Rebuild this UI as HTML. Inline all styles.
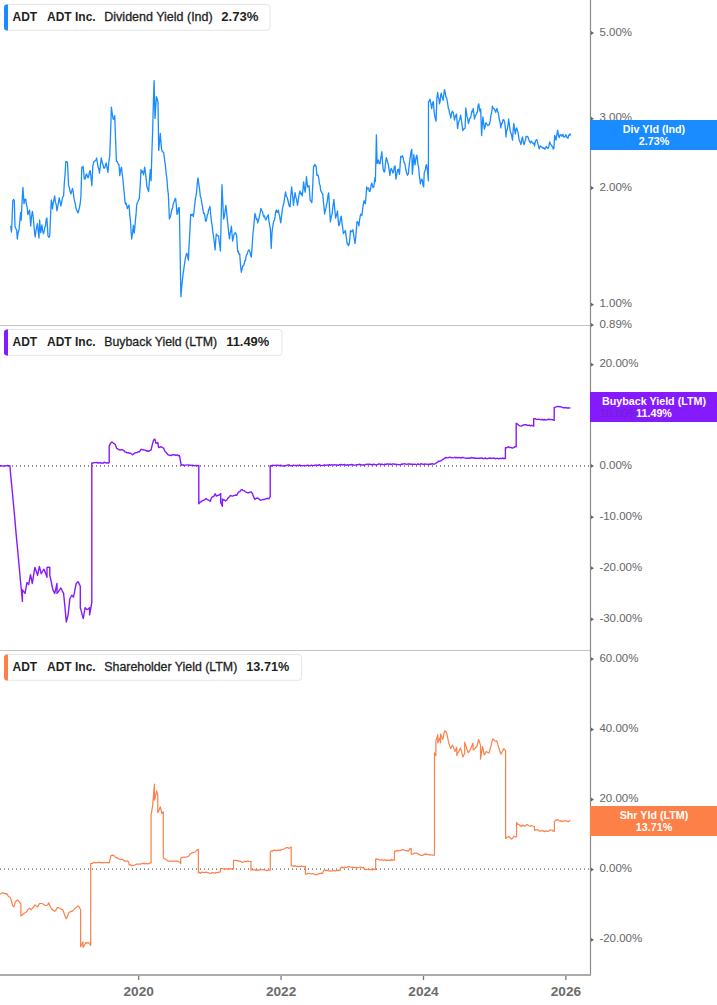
<!DOCTYPE html>
<html><head><meta charset="utf-8"><style>
html,body{margin:0;padding:0;background:#fff;width:717px;height:1005px;overflow:hidden}
svg{display:block;font-family:"Liberation Sans",sans-serif;font-size:12px}
</style></head><body>
<svg width="717" height="1005" viewBox="0 0 717 1005">
<line x1="0" y1="325.5" x2="590" y2="325.5" stroke="#c4c4c4" stroke-width="1"/>
<line x1="0" y1="650.5" x2="590" y2="650.5" stroke="#c4c4c4" stroke-width="1"/>
<line x1="0" y1="466" x2="590" y2="466" stroke="#8c8c8c" stroke-width="1.8" stroke-dasharray="1,3"/>
<line x1="0" y1="869.1" x2="590" y2="869.1" stroke="#8c8c8c" stroke-width="1.8" stroke-dasharray="1,3"/>
<polyline points="10.6,225.9 11.5,232.0 12.2,215.7 12.8,200.8 13.6,199.4 14.3,200.8 15.0,226.0 15.8,228.6 16.7,230.0 17.3,239.0 18.1,232.8 19.0,230.0 19.8,221.4 20.6,212.5 21.2,220.0 22.0,203.2 22.9,187.4 24.0,203.6 24.9,199.5 25.7,199.0 26.4,204.3 27.2,207.6 27.9,214.7 28.8,212.1 29.6,210.0 30.7,226.0 31.5,217.0 32.4,211.4 33.1,216.2 33.8,223.9 34.5,231.9 35.2,237.0 35.9,231.1 36.7,227.0 37.4,223.7 38.2,231.4 39.0,238.0 39.6,219.8 40.7,232.6 41.9,224.8 42.7,231.0 43.5,233.7 44.2,230.9 44.9,227.0 45.5,226.2 46.2,219.3 46.9,218.0 48.0,236.0 48.9,237.4 49.7,236.0 50.5,217.2 51.3,200.0 51.9,203.1 52.5,209.0 53.2,203.1 54.0,199.4 54.7,195.8 55.4,202.1 56.2,204.5 56.9,210.8 57.7,206.9 58.4,202.8 59.2,198.0 60.0,201.5 60.8,206.0 61.5,203.6 62.2,199.2 62.9,196.6 63.6,195.8 64.3,183.3 65.1,173.8 65.8,161.7 66.7,161.7 67.5,162.3 68.6,185.7 69.4,187.7 70.1,191.6 70.9,194.0 71.7,191.1 72.5,188.5 73.2,191.6 73.9,197.5 74.5,201.0 75.2,203.1 75.9,208.0 76.6,210.0 77.4,211.4 78.1,213.0 79.2,208.6 80.1,204.2 80.9,196.8 81.8,167.2 82.4,167.7 83.1,166.3 83.7,171.8 84.3,179.0 85.2,178.8 86.0,174.8 86.6,173.9 87.2,175.7 87.9,177.7 88.5,177.3 89.3,172.6 90.2,170.6 91.1,178.2 91.9,185.8 92.8,166.3 93.7,162.0 94.5,161.3 95.2,160.8 95.9,160.1 96.6,157.9 97.3,162.0 98.0,167.0 98.8,168.6 99.5,173.1 100.3,166.3 101.2,157.9 101.8,160.8 102.5,163.3 103.2,165.3 103.8,168.0 104.4,168.1 105.0,167.3 105.7,164.1 106.3,163.0 107.2,168.3 108.0,172.3 108.8,162.5 109.7,156.2 110.6,132.5 111.4,107.1 112.2,113.6 113.1,119.0 113.9,119.3 114.7,115.6 115.6,139.7 116.4,161.3 117.1,161.3 117.7,162.5 118.3,164.4 119.0,164.6 119.8,175.6 120.7,169.5 121.5,167.2 122.2,173.8 122.9,179.4 123.5,185.9 124.2,192.5 124.9,201.0 125.5,204.0 126.2,203.3 126.8,205.7 127.4,208.6 128.2,206.5 129.1,205.2 129.8,215.1 130.4,220.4 131.0,230.3 131.7,239.0 132.6,232.4 133.4,225.5 134.2,233.1 134.8,227.7 135.4,220.4 136.1,213.6 136.7,205.2 137.3,202.6 138.0,201.5 138.7,199.6 139.3,198.5 140.2,185.6 141.0,169.7 141.6,172.8 142.2,170.9 142.9,172.2 143.5,174.8 144.7,167.2 145.4,172.6 146.2,179.1 146.9,186.6 147.8,189.1 148.6,191.7 149.4,181.1 150.3,169.7 151.1,180.7 151.9,152.3 152.8,125.7 153.4,101.2 154.1,80.7 155.0,118.4 155.7,107.2 156.4,96.7 157.2,99.0 158.0,102.4 158.7,150.4 159.5,142.1 160.3,133.3 161.4,148.1 162.2,151.4 162.9,151.9 163.7,152.7 164.3,157.3 164.9,162.3 165.5,166.4 166.2,174.0 166.9,178.4 167.6,188.6 168.3,193.9 169.4,219.0 170.2,217.1 170.9,214.4 171.7,209.9 172.5,208.4 173.2,204.1 174.0,201.9 174.8,199.7 175.6,198.4 176.3,204.8 177.0,214.4 177.8,212.7 178.5,208.1 179.3,207.6 180.1,250.4 180.9,296.7 181.6,287.9 182.4,280.1 183.1,273.9 183.8,269.1 184.5,263.9 185.2,259.5 185.9,256.0 186.6,253.3 187.2,254.0 187.8,257.3 188.4,260.1 189.2,243.0 189.9,231.1 190.7,214.4 191.4,215.4 192.1,214.1 192.7,215.1 193.4,216.7 194.1,210.5 194.7,205.1 195.4,198.6 196.0,195.9 196.7,191.0 197.3,183.3 198.0,177.9 198.8,183.9 199.5,188.4 200.3,196.1 201.0,198.0 201.7,202.4 202.3,205.5 203.0,209.9 203.6,213.5 204.2,213.1 204.8,214.8 205.4,220.8 206.0,221.3 206.7,218.9 207.3,214.9 207.9,214.0 208.6,209.5 209.2,209.0 209.9,206.4 210.7,214.8 211.4,220.9 212.2,225.9 212.9,232.7 213.6,236.9 214.4,243.4 215.1,249.9 215.7,240.6 216.3,233.9 217.1,235.7 217.8,235.5 218.6,236.1 219.2,242.2 219.8,245.4 220.4,251.0 221.2,216.7 222.0,184.7 222.8,203.1 223.6,219.0 224.4,216.4 225.1,211.3 225.9,205.3 226.9,214.9 227.6,222.1 228.2,228.1 228.8,233.8 229.5,238.8 230.1,233.5 230.8,230.4 231.4,226.1 232.6,241.2 233.3,238.2 233.9,234.5 234.6,234.0 235.2,232.4 235.9,233.7 236.5,234.8 237.7,251.6 238.4,251.4 239.0,254.0 239.7,254.0 240.5,265.0 241.3,272.3 242.1,268.9 242.8,265.9 243.5,265.8 244.2,264.1 244.9,260.3 245.5,260.5 246.1,256.6 246.7,254.5 247.3,254.0 248.1,250.9 248.9,250.0 249.5,250.6 250.1,252.4 250.7,255.8 251.3,257.1 252.1,247.2 252.9,234.0 253.6,228.5 254.3,220.1 255.0,213.3 255.7,216.3 256.4,219.3 257.0,218.8 257.7,222.9 258.3,220.7 259.0,218.8 259.6,215.4 260.3,212.4 260.9,208.5 261.7,210.5 262.4,211.5 263.2,214.9 263.8,216.9 264.5,215.8 265.1,218.5 265.8,220.0 266.4,218.9 267.0,217.2 267.7,215.8 268.3,214.9 269.0,221.5 269.7,225.3 270.4,229.2 271.2,248.4 272.0,232.4 272.6,227.6 273.2,224.0 273.9,220.7 274.5,220.2 275.1,216.4 275.7,211.7 276.4,209.9 277.0,212.2 277.7,212.4 278.4,210.1 279.0,213.9 279.6,215.9 280.2,219.9 280.8,222.9 281.6,215.6 282.4,209.2 283.2,205.3 283.8,203.8 284.4,199.1 285.0,195.3 285.6,191.8 286.4,196.5 287.2,197.4 288.0,200.6 288.7,204.2 289.3,206.1 290.0,206.9 290.8,195.8 291.6,187.0 292.2,192.1 292.9,198.4 293.5,205.3 294.3,197.9 295.1,192.6 295.9,197.2 296.7,200.1 297.5,205.3 298.3,200.2 299.1,194.3 299.9,191.0 300.5,193.9 301.1,192.9 301.7,194.6 302.3,196.0 303.0,189.2 303.6,181.8 304.4,188.6 305.2,192.1 305.9,184.0 306.5,176.6 307.1,183.5 307.8,187.0 308.5,186.4 309.1,185.7 310.1,199.9 311.0,201.3 311.9,202.5 312.9,181.8 313.6,166.2 314.2,166.3 314.9,164.3 315.6,166.0 316.2,166.2 316.8,175.3 317.5,175.1 318.1,175.4 318.8,178.5 319.4,183.8 320.1,185.4 320.7,190.8 321.4,191.6 322.0,193.4 322.7,193.4 323.3,200.5 324.0,206.5 324.6,214.1 325.2,211.2 325.9,208.3 326.5,205.1 327.2,202.1 328.0,195.3 328.7,192.8 329.5,207.6 330.4,221.9 331.2,217.0 332.1,214.1 333.0,205.8 333.9,199.3 334.8,209.7 335.6,218.0 336.2,215.7 336.9,213.5 337.5,210.9 338.1,219.4 338.8,225.8 339.6,224.2 340.4,219.1 341.2,216.1 341.9,222.4 342.7,227.8 343.4,233.6 344.0,232.5 344.7,232.2 345.3,230.3 345.9,234.6 346.6,239.5 347.2,243.9 347.9,243.8 348.5,245.7 349.2,243.9 349.9,237.9 350.5,230.3 351.3,231.6 352.0,231.7 352.8,229.7 353.5,233.3 354.3,239.0 355.0,243.3 355.7,237.9 356.3,230.4 357.0,221.9 357.6,221.7 358.3,223.0 358.9,225.8 359.5,220.7 360.2,216.1 361.0,214.0 361.9,215.4 362.6,209.4 363.4,203.8 364.1,200.6 364.8,202.9 365.4,203.8 366.0,196.5 366.7,187.0 367.4,189.2 368.0,188.3 368.6,188.0 369.3,191.3 369.9,191.5 370.5,189.3 371.2,184.5 371.8,183.1 372.5,185.9 373.1,187.6 373.8,187.0 374.5,181.0 375.1,177.2 375.4,181.5 376.4,134.9 377.1,163.6 378.3,160.0 379.1,163.6 380.0,163.6 380.6,159.2 381.3,155.5 381.9,151.6 382.5,162.0 383.1,168.4 383.9,171.5 384.6,171.9 385.5,163.4 386.3,157.6 386.9,159.3 387.5,161.7 388.1,163.6 389.0,168.9 389.9,175.5 390.5,170.7 391.1,168.4 392.0,170.0 392.9,173.1 393.6,171.6 394.4,166.4 395.1,166.0 395.9,179.1 396.5,176.1 397.1,172.5 397.7,169.6 398.3,169.2 398.9,172.1 399.5,174.3 400.7,156.4 401.3,157.2 401.9,157.0 402.5,155.6 403.1,157.6 404.0,162.5 404.9,163.6 405.8,169.5 406.6,173.1 407.5,175.3 408.4,173.7 409.0,166.8 409.6,162.0 410.2,157.6 411.0,151.6 411.8,149.3 412.3,174.3 413.1,165.6 413.8,154.6 415.0,164.8 415.6,160.7 416.2,156.9 416.8,155.2 417.4,158.9 418.0,164.8 418.6,167.2 419.5,176.8 420.4,183.9 421.1,180.5 421.8,179.1 422.4,180.3 423.1,186.0 423.7,186.9 424.2,173.1 424.8,171.3 425.4,169.8 426.0,165.2 426.6,164.8 427.5,171.1 428.4,180.9 428.5,101.5 429.2,101.1 430.0,99.1 430.9,103.6 431.7,108.7 432.5,103.4 433.3,101.5 434.0,110.4 434.7,115.8 435.4,119.0 436.1,121.2 436.9,97.9 437.7,92.5 438.3,97.5 438.9,98.4 439.5,103.9 440.1,101.7 440.7,95.0 441.3,93.1 441.9,97.0 442.5,97.7 443.1,100.3 443.8,94.3 444.5,89.6 445.2,92.6 445.9,96.8 446.6,97.9 447.5,102.4 448.4,108.7 449.0,109.6 449.6,113.6 450.2,114.8 450.8,118.2 451.6,113.1 452.5,111.2 453.2,112.8 453.8,115.3 454.5,120.1 455.2,116.9 455.8,115.3 456.5,114.0 457.6,128.5 458.2,124.1 458.9,121.2 459.8,119.2 460.6,115.1 461.7,122.4 462.8,130.7 463.6,128.9 464.3,128.8 465.1,127.9 465.8,107.9 467.0,116.2 467.7,118.6 468.4,123.5 469.1,121.0 469.9,117.8 470.6,117.9 471.2,114.5 471.9,111.2 472.6,111.7 473.2,108.4 473.9,113.9 474.5,119.0 475.3,115.7 476.0,114.8 476.8,112.9 477.5,111.6 478.1,105.3 478.8,103.9 479.5,109.1 480.1,111.8 480.7,109.0 481.6,135.7 482.2,126.0 482.9,116.8 483.6,122.9 484.4,129.1 485.0,127.3 485.7,122.9 486.4,123.4 487.2,124.8 487.9,125.7 488.7,125.0 489.4,124.6 490.2,121.2 490.9,115.6 491.7,112.5 492.4,106.2 493.1,108.0 493.7,108.6 494.4,109.0 495.0,110.3 495.7,112.3 496.9,108.4 497.6,111.2 498.4,113.4 499.1,118.5 500.0,121.7 500.8,127.9 501.5,123.4 502.3,123.3 503.0,119.6 503.9,120.0 504.7,122.4 505.4,128.3 506.0,136.9 506.6,130.8 507.3,129.3 508.0,125.0 508.6,119.0 509.5,125.8 510.3,131.3 511.0,133.4 511.8,136.2 512.5,140.2 513.1,131.0 513.8,123.5 514.5,128.6 515.3,134.1 516.0,129.6 516.7,127.9 517.4,130.5 518.1,132.6 518.8,138.1 519.5,141.0 520.2,142.1 520.9,144.7 521.7,139.8 522.5,136.9 523.4,142.7 524.2,144.7 524.8,141.8 525.5,139.9 526.1,136.4 526.7,136.3 527.4,136.3 528.0,137.2 528.6,138.9 529.2,140.9 529.9,142.0 530.5,143.0 531.1,141.2 531.7,141.8 532.5,142.9 533.4,143.9 534.0,143.0 534.6,146.0 535.2,142.1 535.9,140.1 536.8,139.7 537.6,142.6 538.4,145.3 539.2,148.9 539.9,146.5 540.6,145.9 541.3,147.2 542.1,147.1 543.0,148.5 543.9,147.8 544.7,149.3 545.5,148.2 546.4,146.4 547.2,147.6 548.0,148.5 548.9,146.2 549.7,141.8 550.5,144.1 551.4,145.1 552.0,146.6 552.6,146.4 553.2,149.0 553.9,148.5 554.7,135.5 555.4,137.4 556.0,140.1 556.9,134.4 557.7,130.1 558.5,135.8 559.3,137.6 560.1,134.7 561.0,134.7 561.6,136.0 562.2,136.1 562.9,134.1 563.5,136.3 564.1,137.2 564.8,137.1 565.4,135.6 566.0,134.7 566.7,136.7 567.4,138.1 568.1,138.0 568.7,135.2 569.4,135.3 570.0,133.8 570.6,135.5" fill="none" stroke="#1a8cff" stroke-width="1.3" stroke-linejoin="round"/>
<polyline points="0.0,465.8 1.1,465.8 2.2,465.9 3.3,466.2 4.4,465.8 5.5,465.8 6.6,465.9 7.7,465.5 8.8,465.8 9.9,465.8 10.9,477.2 12.0,488.7 13.0,499.3 14.1,510.8 15.1,521.9 16.1,533.9 17.2,545.1 18.2,555.7 19.3,568.0 20.3,579.3 21.4,590.3 22.4,601.4 22.4,589.8 23.8,591.7 25.1,593.4 26.9,582.6 28.7,584.4 30.5,574.6 32.3,583.5 33.6,575.1 34.9,567.4 36.2,570.9 37.6,575.4 39.4,566.5 41.2,573.7 42.5,571.5 43.9,569.2 44.9,571.4 46.0,574.2 47.0,577.2 47.0,567.4 48.4,567.1 49.8,567.4 49.8,575.4 50.8,579.7 51.9,585.0 52.9,589.8 54.7,593.4 55.9,588.4 57.0,583.5 57.0,593.4 58.3,591.9 59.6,589.8 60.9,588.0 62.2,590.8 63.6,593.4 65.0,607.7 66.3,622.0 68.1,614.9 69.9,598.7 71.7,595.2 73.5,597.0 74.8,590.4 76.2,583.5 78.0,581.7 79.2,583.9 80.3,586.2 80.3,607.7 81.3,611.1 82.3,615.4 83.3,618.5 85.1,607.7 86.9,609.5 88.2,609.1 89.6,607.7 89.6,614.9 90.7,608.9 91.8,602.3 91.8,462.9 92.8,463.1 93.8,462.7 94.9,462.6 95.9,462.6 96.9,462.4 97.9,463.1 99.0,462.7 100.0,463.2 101.0,462.7 102.0,463.2 103.1,463.1 104.1,462.3 105.1,462.5 106.1,463.1 107.2,462.7 108.2,463.2 109.2,462.7 109.2,445.9 110.3,443.9 111.4,442.1 112.4,442.3 113.4,443.4 115.1,444.2 116.8,448.4 118.0,449.2 119.3,449.8 120.4,450.1 121.5,449.6 122.6,449.8 123.8,450.5 125.1,452.1 126.2,452.1 127.4,452.9 128.5,452.6 129.6,453.4 130.6,453.3 131.6,454.0 132.7,454.8 133.8,453.7 134.9,452.9 136.0,452.6 137.1,452.6 138.3,451.7 139.4,451.8 141.0,449.3 142.1,449.6 143.3,449.8 144.4,450.1 145.4,450.1 146.5,451.0 147.6,450.7 148.6,451.4 149.8,450.7 151.1,449.8 152.3,444.6 153.6,440.1 154.9,439.2 156.1,443.4 157.8,442.6 158.6,447.6 159.8,447.1 161.1,446.8 162.3,447.3 163.6,448.4 165.3,451.8 166.4,452.5 167.4,454.1 168.4,454.9 169.5,455.5 170.5,455.2 171.5,455.6 172.5,454.8 173.5,454.8 174.5,454.8 175.5,455.3 176.5,455.2 177.5,454.8 178.5,455.8 179.5,455.5 181.2,465.2 182.2,464.9 183.3,465.0 184.3,465.5 185.3,465.1 186.4,465.1 187.4,464.9 188.4,464.9 189.5,465.4 190.5,465.1 191.6,465.5 192.6,465.3 193.6,465.4 194.7,465.9 195.7,465.4 196.7,465.5 197.8,465.8 198.8,465.5 198.8,503.8 200.0,502.4 201.2,501.7 202.2,500.7 203.2,500.3 204.6,499.8 206.0,498.5 207.4,499.7 208.8,500.3 210.2,501.3 211.6,497.5 212.6,496.8 213.7,496.6 215.1,493.8 216.5,496.1 217.6,495.4 218.6,495.4 219.6,494.6 220.7,493.4 220.7,502.4 222.4,506.3 222.4,498.9 223.5,500.0 224.5,500.0 225.6,501.0 227.0,499.7 228.4,497.5 229.4,496.8 230.4,495.4 231.4,495.9 232.5,496.1 233.6,495.7 234.6,495.4 235.6,495.0 236.7,495.4 237.8,493.2 238.8,492.0 239.8,491.7 240.9,490.1 241.9,489.6 243.0,490.4 244.0,490.6 245.1,491.5 246.5,492.4 247.9,492.7 249.1,492.6 250.2,492.0 251.4,492.0 252.6,494.1 253.7,497.2 254.9,499.4 256.2,498.3 257.6,498.0 259.0,498.9 260.4,500.3 261.8,499.9 263.2,499.4 264.4,499.5 265.5,498.9 266.7,498.5 267.8,498.5 268.8,498.9 270.2,496.6 270.2,465.7 271.2,466.1 272.2,465.4 273.2,465.2 274.2,465.4 275.2,465.6 276.2,465.2 277.2,465.3 278.2,465.5 279.3,465.7 280.3,465.2 281.3,465.4 282.3,466.0 283.3,466.0 284.3,465.7 285.3,465.7 286.3,465.6 287.3,465.1 288.3,465.0 289.3,465.0 290.3,465.9 291.3,465.7 292.3,465.9 293.3,465.0 294.3,465.6 295.3,465.4 296.4,465.6 297.4,465.2 298.4,465.9 299.4,464.9 300.4,465.4 301.4,465.6 302.4,465.7 303.4,465.6 304.4,465.5 305.4,465.6 306.4,465.7 307.4,465.1 308.4,465.4 309.4,465.7 310.4,465.6 311.4,465.1 312.4,465.5 313.4,465.6 314.5,465.3 315.5,465.3 316.5,465.1 317.5,465.2 318.5,465.3 319.5,464.7 320.5,465.3 321.5,465.6 322.5,465.5 323.5,465.3 324.5,465.0 325.5,465.3 326.5,465.1 327.5,465.0 328.5,465.4 329.5,464.6 330.5,465.3 331.6,464.5 332.6,465.1 333.6,465.0 334.6,464.7 335.6,465.1 336.6,464.9 337.6,465.0 338.6,465.3 339.6,464.7 340.6,464.4 341.6,464.7 342.6,465.0 343.6,464.6 344.6,464.5 345.6,465.2 346.6,465.0 347.6,464.8 348.6,465.2 349.7,464.6 350.7,464.9 351.7,464.5 352.7,464.7 353.7,465.0 354.7,465.1 355.7,465.1 356.7,464.6 357.7,464.8 358.7,464.5 359.7,464.3 360.7,464.7 361.7,465.0 362.7,465.0 363.7,464.8 364.7,465.1 365.7,464.4 366.8,464.3 367.8,464.5 368.8,464.3 369.8,464.3 370.8,464.5 371.8,464.7 372.8,464.5 373.8,464.3 374.8,464.5 375.8,464.8 376.8,465.0 377.8,464.4 378.8,464.0 379.8,464.0 380.8,464.8 381.8,464.0 382.8,464.6 383.8,464.5 384.9,464.2 385.9,464.7 386.9,463.9 387.9,464.0 388.9,464.3 389.9,463.9 390.9,464.7 391.9,464.1 392.9,464.0 393.9,463.9 394.9,464.5 395.9,464.3 396.9,464.4 397.9,464.5 398.9,464.6 399.9,464.7 400.9,464.5 401.9,464.0 402.9,464.2 403.9,463.9 405.0,463.8 406.0,464.2 407.0,464.4 408.0,463.9 409.0,464.0 410.0,464.0 411.0,464.4 412.0,464.2 413.0,464.3 414.0,464.4 415.0,464.1 416.0,464.4 417.0,464.6 418.0,463.7 419.0,464.6 420.0,464.3 421.0,463.7 422.0,464.1 423.0,464.2 424.0,464.5 425.1,464.0 426.1,464.1 427.1,464.4 428.1,464.3 429.1,464.5 430.1,464.0 431.1,464.2 432.1,463.7 433.1,464.2 434.1,464.0 435.2,463.7 436.3,463.0 437.3,462.4 438.4,461.3 439.5,461.4 440.6,460.9 441.7,460.3 442.8,459.3 443.8,459.0 444.9,457.9 446.0,457.5 447.0,457.9 448.0,457.9 449.0,457.4 450.0,457.2 451.0,457.5 452.0,457.7 453.0,457.9 454.0,457.6 455.0,457.2 456.0,458.0 457.0,457.3 458.0,458.0 459.0,457.4 460.0,457.6 461.0,458.1 462.0,457.4 463.1,457.5 464.1,457.8 465.1,458.1 466.1,458.2 467.1,458.1 468.1,458.3 469.1,457.9 470.1,458.4 471.1,457.5 472.1,457.7 473.1,458.0 474.1,457.8 475.1,458.3 476.1,458.2 477.1,458.1 478.1,458.4 479.1,458.1 480.1,458.2 481.1,457.9 482.1,458.0 483.1,458.5 484.2,458.6 485.2,457.9 486.2,458.6 487.2,458.7 488.2,458.3 489.2,458.3 490.2,458.0 491.2,458.3 492.2,458.3 493.3,458.4 494.3,457.9 495.3,458.8 496.3,458.4 497.3,458.3 498.3,458.7 499.3,458.5 500.3,458.4 501.4,458.6 502.4,458.0 503.4,458.5 504.4,458.4 505.4,458.5 505.4,447.7 506.9,447.7 508.3,446.7 509.6,447.6 511.0,447.4 512.3,448.1 513.6,447.6 514.9,446.8 516.2,446.7 516.2,423.3 517.5,424.1 518.8,425.3 520.1,425.9 521.3,426.1 522.4,425.4 523.6,425.0 524.7,424.6 525.9,424.7 527.0,425.0 528.1,425.6 529.2,425.0 530.4,425.8 531.5,425.3 532.6,425.7 533.7,426.2 533.7,418.8 535.0,418.7 536.3,419.4 537.6,419.4 538.7,419.3 539.8,419.4 540.9,419.8 542.1,419.3 543.2,420.1 544.3,419.5 545.4,420.0 546.6,419.9 547.8,419.5 548.9,419.3 550.1,419.6 551.3,419.4 552.8,419.8 554.2,420.4 554.2,407.7 555.5,407.1 556.8,406.7 558.1,406.3 559.3,406.7 560.5,406.7 561.8,407.1 563.0,407.7 564.1,407.8 565.1,407.8 566.2,407.7 567.2,408.1 568.3,407.8 569.3,408.1 570.4,407.7" fill="none" stroke="#851aff" stroke-width="1.4" stroke-linejoin="round"/>
<polyline points="0.0,894.4 1.4,893.3 2.8,892.7 3.8,893.2 4.9,893.4 6.0,893.9 7.0,893.7 8.4,896.5 9.4,896.8 10.5,897.9 11.6,901.4 12.6,905.6 13.9,906.9 15.3,902.1 16.4,900.6 17.4,900.0 18.4,900.7 19.5,902.1 20.9,904.2 20.9,916.0 22.1,915.3 23.2,913.7 24.4,913.2 25.4,912.5 26.5,911.8 27.9,909.7 29.3,908.3 30.4,908.8 31.4,909.7 32.6,908.0 33.7,906.9 34.9,904.9 36.3,906.0 37.7,906.9 38.7,904.6 39.7,903.5 40.9,903.5 42.0,903.5 43.2,904.2 44.4,905.1 45.5,905.5 46.7,905.6 47.8,904.6 48.8,902.8 50.2,906.3 51.6,909.0 52.8,910.0 53.9,910.9 55.1,911.1 56.2,909.7 57.2,907.6 58.6,907.7 60.0,908.3 61.4,909.4 62.8,909.7 63.9,912.7 65.1,916.1 66.2,918.8 67.6,915.7 69.0,912.5 70.2,911.9 71.3,911.4 72.5,911.1 73.7,909.8 74.8,908.5 76.0,907.6 77.4,906.4 78.8,906.2 80.6,909.7 80.6,946.7 81.8,944.6 83.0,941.8 83.0,947.4 84.4,945.3 85.8,942.5 87.2,943.1 88.6,942.5 89.7,944.1 90.7,945.3 90.7,937.6 90.7,863.4 91.7,863.3 92.8,863.3 93.8,862.4 94.8,862.6 95.8,862.8 96.9,862.6 97.9,862.3 98.9,862.3 99.9,862.7 101.0,862.4 102.0,862.7 103.0,862.9 104.1,862.7 105.1,862.4 106.1,862.8 107.1,862.5 108.2,862.6 109.2,862.9 110.9,855.7 112.2,855.1 113.4,855.3 114.7,856.4 115.9,857.8 117.2,857.7 118.4,858.7 119.5,859.1 120.5,859.6 121.5,859.2 122.6,859.5 123.7,860.3 124.9,861.2 126.0,861.2 127.2,860.9 128.5,861.7 129.3,865.0 130.4,864.7 131.6,865.6 132.7,865.4 133.9,865.5 135.0,865.0 136.2,864.2 137.3,864.2 138.5,864.0 139.6,864.2 140.8,864.1 141.9,863.4 143.0,863.8 144.1,863.1 145.2,864.0 146.4,863.4 147.5,863.9 148.6,863.7 149.8,862.9 151.1,862.9 151.1,815.2 152.7,805.1 154.4,784.2 154.4,800.1 155.5,796.1 156.6,790.9 157.8,795.1 157.8,812.7 159.1,809.9 160.3,806.8 161.9,813.5 163.3,811.8 163.3,857.8 164.4,858.7 165.4,858.8 166.5,860.0 167.5,860.6 168.6,861.2 169.7,861.3 170.9,861.0 172.0,861.2 173.1,861.5 174.2,861.0 175.3,861.2 176.5,861.2 177.7,861.2 178.8,862.0 180.0,862.0 180.7,863.7 180.7,858.3 181.8,857.6 182.9,857.5 184.0,857.0 185.1,857.4 186.2,857.0 187.4,856.7 188.7,856.2 190.4,853.7 191.4,853.4 192.5,852.4 193.6,852.6 194.6,852.3 195.9,851.2 197.1,849.9 198.4,849.5 198.4,872.9 199.4,872.2 200.4,873.4 201.4,872.2 202.5,872.4 203.5,872.3 204.5,872.6 205.5,872.4 206.6,872.1 207.8,872.8 208.9,872.8 210.0,873.2 211.0,873.5 212.0,872.4 213.0,872.7 214.0,872.8 215.1,873.3 216.1,872.6 217.1,872.5 218.1,872.6 219.1,872.1 220.1,872.2 220.9,868.8 222.0,868.3 223.0,868.8 224.1,869.3 225.1,869.2 226.2,868.6 227.2,869.1 228.2,869.3 229.3,868.6 230.3,869.1 231.4,868.8 232.4,868.7 233.5,869.0 233.5,860.4 234.5,860.3 235.6,860.3 236.6,860.6 237.6,860.9 238.7,860.6 239.7,861.4 240.8,861.3 241.8,862.1 242.8,862.3 243.8,861.9 244.8,861.1 245.8,861.9 246.8,861.4 247.9,861.0 248.9,861.4 249.9,861.5 251.0,861.4 251.0,870.1 252.0,869.9 253.0,869.8 254.0,870.0 255.1,869.7 256.1,870.5 257.1,869.6 258.1,870.5 259.1,869.8 260.1,869.9 261.2,870.0 262.2,869.5 263.2,869.7 264.2,869.9 265.2,870.0 266.2,870.6 267.3,870.7 268.3,869.6 269.3,870.1 270.3,870.1 270.3,851.7 271.4,850.8 272.5,851.2 273.6,850.4 274.7,850.1 275.9,850.7 277.0,850.1 278.1,850.3 279.2,850.0 280.3,850.6 281.4,849.5 282.6,849.4 283.7,849.2 284.9,848.8 286.2,847.6 287.4,847.6 288.7,848.4 289.9,847.7 291.2,847.1 291.2,866.0 292.2,865.9 293.2,865.9 294.2,866.4 295.3,865.7 296.3,866.4 297.3,866.3 298.3,866.7 299.3,866.2 300.3,866.7 301.3,866.1 302.4,866.3 303.4,866.4 304.4,866.7 305.4,866.3 305.4,874.0 306.5,874.4 307.6,873.4 308.8,873.3 309.9,873.7 311.0,874.0 312.1,873.5 313.2,873.9 314.4,874.1 315.5,874.7 316.6,875.0 317.8,874.0 318.9,873.5 320.0,873.8 321.2,873.1 322.5,873.5 323.7,870.5 324.8,870.0 325.8,870.8 326.9,870.1 327.9,870.8 328.9,871.0 330.0,870.6 331.0,871.2 332.0,871.0 333.0,870.5 334.0,870.7 335.1,870.9 336.1,870.8 337.1,870.3 338.1,870.8 339.1,870.0 340.1,870.5 340.9,867.3 341.9,867.1 343.0,867.9 344.0,867.3 345.0,867.0 346.0,867.6 347.1,867.2 348.1,866.7 349.1,866.7 350.1,867.0 351.2,867.1 352.2,867.8 353.2,867.0 354.3,867.7 355.3,867.7 356.3,867.2 357.3,867.9 358.4,867.6 359.4,867.3 360.4,867.0 361.4,867.3 362.5,867.8 363.5,867.3 364.4,869.6 365.4,869.6 366.5,869.2 367.5,869.5 368.5,869.6 369.5,869.2 370.6,869.7 371.6,869.0 372.6,870.0 373.6,869.2 374.7,869.1 375.7,869.6 375.7,858.9 376.9,859.2 378.0,859.1 379.1,860.0 380.3,859.8 381.4,859.8 382.5,859.9 383.6,860.4 384.7,859.7 385.8,860.3 386.9,860.1 388.0,860.3 389.1,860.0 390.2,860.7 391.2,859.5 392.3,860.5 393.4,859.7 394.5,860.1 394.5,851.2 395.6,851.5 396.6,850.6 397.6,850.4 398.7,850.9 399.8,850.5 400.9,850.5 402.0,849.6 403.2,849.6 404.4,850.2 405.5,850.7 406.7,850.6 407.9,851.2 409.0,850.3 410.1,848.7 411.2,848.4 411.2,854.2 412.2,853.9 413.3,854.0 414.3,853.2 415.4,853.1 416.6,853.2 417.8,853.5 418.9,854.7 420.1,854.9 421.3,855.4 422.3,855.6 423.3,855.0 424.3,853.9 425.3,854.5 426.3,853.7 427.4,854.5 428.4,854.6 429.4,854.8 430.5,854.7 431.5,855.0 432.5,855.2 433.5,855.2 434.5,855.1 434.5,752.8 435.9,755.6 435.9,740.9 437.8,734.6 437.8,743.0 439.6,738.1 440.6,743.0 440.6,734.0 441.8,736.9 442.9,739.5 444.5,730.9 445.6,731.5 446.6,732.6 447.6,737.4 448.7,743.0 449.8,746.1 450.8,748.6 452.6,745.1 453.8,748.4 455.0,751.4 456.8,747.2 456.8,755.6 458.1,752.5 459.3,750.6 460.6,747.9 461.8,752.6 462.9,757.0 464.7,753.5 464.7,742.3 465.9,745.8 467.0,749.6 468.2,752.8 469.6,750.8 471.0,747.9 472.1,745.3 473.1,743.0 473.1,750.0 474.4,749.2 475.6,747.7 476.9,746.5 478.7,739.5 480.5,745.1 480.5,759.1 481.5,752.9 482.5,746.5 484.3,754.9 485.4,753.0 486.4,751.4 487.8,752.6 489.2,752.8 490.3,748.1 491.5,744.0 492.6,738.8 493.6,739.7 494.7,740.9 495.8,741.1 496.8,740.9 497.9,744.9 498.9,747.9 499.9,751.3 501.0,754.2 502.4,751.3 503.8,748.6 505.6,750.7 505.6,838.5 506.6,837.3 507.7,837.1 508.7,836.5 510.1,837.7 511.5,839.2 512.7,838.1 513.9,836.2 515.2,836.8 516.6,836.7 516.6,822.6 517.7,824.1 518.8,824.5 520.0,825.4 521.2,826.5 522.7,825.0 524.6,826.3 525.9,825.3 527.1,824.5 528.3,825.3 529.5,826.0 530.5,826.3 531.5,825.5 532.5,826.0 534.4,826.3 534.6,830.4 536.0,829.8 537.3,829.9 538.3,830.1 539.3,831.2 540.6,830.9 541.9,830.8 543.2,830.9 544.5,831.6 545.8,830.9 547.1,831.4 548.5,831.2 550.0,829.9 551.1,830.0 552.2,830.2 553.3,831.4 554.4,831.2 554.4,821.6 555.6,820.4 556.7,819.8 557.9,819.6 559.8,821.1 561.2,820.9 562.7,821.6 563.9,820.8 565.0,820.9 566.2,820.8 568.1,821.8 569.3,820.9 570.5,820.6" fill="none" stroke="#fc8048" stroke-width="1.2" stroke-linejoin="round"/>
<line x1="590.5" y1="0" x2="590.5" y2="975" stroke="#8a8a8a" stroke-width="1.2"/>
<line x1="0" y1="975" x2="591" y2="975" stroke="#aaa" stroke-width="2"/>
<line x1="138.7" y1="976" x2="138.7" y2="980" stroke="#777" stroke-width="1.3"/>
<text transform="translate(138.7,995.8) scale(1.14,1)" font-size="12" font-weight="bold" fill="#6b6b6b" text-anchor="middle">2020</text>
<line x1="281.1" y1="976" x2="281.1" y2="980" stroke="#777" stroke-width="1.3"/>
<text transform="translate(281.1,995.8) scale(1.14,1)" font-size="12" font-weight="bold" fill="#6b6b6b" text-anchor="middle">2022</text>
<line x1="423.5" y1="976" x2="423.5" y2="980" stroke="#777" stroke-width="1.3"/>
<text transform="translate(423.5,995.8) scale(1.14,1)" font-size="12" font-weight="bold" fill="#6b6b6b" text-anchor="middle">2024</text>
<line x1="565.9" y1="976" x2="565.9" y2="980" stroke="#777" stroke-width="1.3"/>
<text transform="translate(565.9,995.8) scale(1.14,1)" font-size="12" font-weight="bold" fill="#6b6b6b" text-anchor="middle">2026</text>
<path d="M591,31.1 L594,33 L591,34.9 z" fill="#666"/><text transform="translate(599.4,35.6) scale(1.045,1)" font-size="11" fill="#666">5.00%</text>
<path d="M591,116.8 L594,118.7 L591,120.60000000000001 z" fill="#666"/><text transform="translate(599.4,121.3) scale(1.045,1)" font-size="11" fill="#666">3.00%</text>
<path d="M591,186.1 L594,188 L591,189.9 z" fill="#666"/><text transform="translate(599.4,190.6) scale(1.045,1)" font-size="11" fill="#666">2.00%</text>
<path d="M591,302.8 L594,304.7 L591,306.59999999999997 z" fill="#666"/><text transform="translate(599.4,307.3) scale(1.045,1)" font-size="11" fill="#666">1.00%</text>
<path d="M591,323.1 L594,325 L591,326.9 z" fill="#666"/><text transform="translate(599.4,327.6) scale(1.045,1)" font-size="11" fill="#666">0.89%</text>
<path d="M591,362.8 L594,364.7 L591,366.59999999999997 z" fill="#666"/><text transform="translate(599.4,367.3) scale(1.045,1)" font-size="11" fill="#666">20.00%</text>
<path d="M591,412.90000000000003 L594,414.8 L591,416.7 z" fill="#666"/><text transform="translate(599.4,417.40000000000003) scale(1.045,1)" font-size="11" fill="#666">10.00%</text>
<path d="M591,464.0 L594,465.9 L591,467.79999999999995 z" fill="#666"/><text transform="translate(599.4,468.5) scale(1.045,1)" font-size="11" fill="#666">0.00%</text>
<path d="M591,515.3000000000001 L594,517.2 L591,519.1 z" fill="#666"/><text transform="translate(599.4,519.8000000000001) scale(1.045,1)" font-size="11" fill="#666">-10.00%</text>
<path d="M591,566.3000000000001 L594,568.2 L591,570.1 z" fill="#666"/><text transform="translate(599.4,570.8000000000001) scale(1.045,1)" font-size="11" fill="#666">-20.00%</text>
<path d="M591,617.4 L594,619.3 L591,621.1999999999999 z" fill="#666"/><text transform="translate(599.4,621.9) scale(1.045,1)" font-size="11" fill="#666">-30.00%</text>
<path d="M591,657.2 L594,659.1 L591,661.0 z" fill="#666"/><text transform="translate(599.4,661.7) scale(1.045,1)" font-size="11" fill="#666">60.00%</text>
<path d="M591,727.6 L594,729.5 L591,731.4 z" fill="#666"/><text transform="translate(599.4,732.1) scale(1.045,1)" font-size="11" fill="#666">40.00%</text>
<path d="M591,797.6 L594,799.5 L591,801.4 z" fill="#666"/><text transform="translate(599.4,802.1) scale(1.045,1)" font-size="11" fill="#666">20.00%</text>
<path d="M591,867.7 L594,869.6 L591,871.5 z" fill="#666"/><text transform="translate(599.4,872.2) scale(1.045,1)" font-size="11" fill="#666">0.00%</text>
<path d="M591,937.9 L594,939.8 L591,941.6999999999999 z" fill="#666"/><text transform="translate(599.4,942.4) scale(1.045,1)" font-size="11" fill="#666">-20.00%</text>
<rect x="590" y="120" width="127" height="30" fill="#1a8cff"/>
<text transform="translate(654,133) scale(0.975,1)" font-size="11" font-weight="bold" fill="#fff" text-anchor="middle">Div Yld (Ind)</text>
<text transform="translate(654,144.5) scale(0.975,1)" font-size="11" font-weight="bold" fill="#fff" text-anchor="middle">2.73%</text>
<rect x="590" y="392" width="127" height="30" fill="#851aff"/>
<text transform="translate(654,405) scale(0.975,1)" font-size="11" font-weight="bold" fill="#fff" text-anchor="middle">Buyback Yield (LTM)</text>
<text transform="translate(654,416.5) scale(0.975,1)" font-size="11" font-weight="bold" fill="#fff" text-anchor="middle">11.49%</text>
<text transform="translate(599.4,417.4) scale(1.045,1)" font-size="11" fill="#333" fill-opacity="0.3">10.00%</text>
<rect x="590" y="806" width="127" height="30" fill="#fc8048"/>
<text transform="translate(654,819) scale(0.975,1)" font-size="11" font-weight="bold" fill="#fff" text-anchor="middle">Shr Yld (LTM)</text>
<text transform="translate(654,830.5) scale(0.975,1)" font-size="11" font-weight="bold" fill="#fff" text-anchor="middle">13.71%</text>

<g>
  <rect x="4.5" y="4.5" width="265.5" height="25.8" rx="3" ry="3" fill="#fff" stroke="#e6e6e6" stroke-width="1"/>
  <path d="M8,4.5 h-1 a3,3 0 0 0 -3,3 v20 a3,3 0 0 0 3,3 h1 z" fill="#1a8cff"/>
  <text transform="translate(12.5,20.5) scale(1,1)" font-weight="bold" fill="#1f1f1f">ADT</text>
  <text transform="translate(47,20.5) scale(1,1)" font-weight="bold" fill="#1f1f1f">ADT Inc.</text>
  <text transform="translate(104.3,20.5) scale(1.042,1)" fill="#1f1f1f" stroke="#1f1f1f" stroke-width="0.3">Dividend Yield (Ind)</text>
  <text transform="translate(221.2,20.5) scale(1.097,1)" font-weight="bold" fill="#1f1f1f">2.73%</text>
</g>

<g>
  <rect x="4.5" y="329.5" width="277.5" height="25.8" rx="3" ry="3" fill="#fff" stroke="#e6e6e6" stroke-width="1"/>
  <path d="M8,329.5 h-1 a3,3 0 0 0 -3,3 v20 a3,3 0 0 0 3,3 h1 z" fill="#851aff"/>
  <text transform="translate(12.5,345.5) scale(1,1)" font-weight="bold" fill="#1f1f1f">ADT</text>
  <text transform="translate(47,345.5) scale(1,1)" font-weight="bold" fill="#1f1f1f">ADT Inc.</text>
  <text transform="translate(104.3,345.5) scale(1.027,1)" fill="#1f1f1f" stroke="#1f1f1f" stroke-width="0.3">Buyback Yield (LTM)</text>
  <text transform="translate(226.2,345.5) scale(1.075,1)" font-weight="bold" fill="#1f1f1f">11.49%</text>
</g>

<g>
  <rect x="4.5" y="654.5" width="297.0" height="25.8" rx="3" ry="3" fill="#fff" stroke="#e6e6e6" stroke-width="1"/>
  <path d="M8,654.5 h-1 a3,3 0 0 0 -3,3 v20 a3,3 0 0 0 3,3 h1 z" fill="#fc8048"/>
  <text transform="translate(12.5,670.5) scale(1,1)" font-weight="bold" fill="#1f1f1f">ADT</text>
  <text transform="translate(47,670.5) scale(1,1)" font-weight="bold" fill="#1f1f1f">ADT Inc.</text>
  <text transform="translate(104.3,670.5) scale(1.03,1)" fill="#1f1f1f" stroke="#1f1f1f" stroke-width="0.3">Shareholder Yield (LTM)</text>
  <text transform="translate(246.3,670.5) scale(1.055,1)" font-weight="bold" fill="#1f1f1f">13.71%</text>
</g>
</svg></body></html>
